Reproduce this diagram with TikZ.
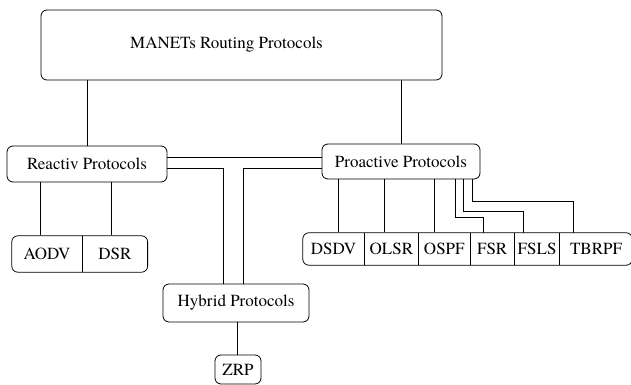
\documentclass[tikz,border=0pt]{standalone}
\usepackage{fontspec}
\setmainfont{texgyretermes}[Extension=.otf, UprightFont=*-regular, BoldFont=*-bold]
\usetikzlibrary{positioning,fit}

\tikzset{
  protobox/.style={draw, rounded corners=6pt, line width=0.8pt, inner sep=0pt,
    font=\fontsize{17}{20}\selectfont},
  protocell/.style={inner sep=0pt, font=\fontsize{17}{20}\selectfont},
  link/.style={line width=0.8pt}
}

\begin{document}
\begin{tikzpicture}[x=1pt,y=-1pt]
		%%Location
		\useasboundingbox (0,0) rectangle (631,385);
		%%Boxes
		\node[protobox, minimum width=401pt, minimum height=70pt,
		  label={[xshift=-15pt, font=\fontsize{17}{20}\selectfont]center:MANETs Routing Protocols}] (manet) at (241.5,45) {};
		\node[protobox, minimum width=160pt, minimum height=36pt] (reactiv) at (87,164) {Reactiv Protocols};
		\node[protobox, minimum width=158pt, minimum height=35pt] (proactive) at (401,161.5) {Proactive Protocols};
		\node[protobox, minimum width=146pt, minimum height=38pt] (hybrid) at (236,303) {Hybrid Protocols};
		\node[protobox, minimum width=46pt, minimum height=29pt] (zrp) at (238,369.5) {ZRP};
		
		%%Reactive protocols
		\node[protocell, minimum width=70pt, minimum height=36pt] (aodv) at (47,254) {AODV};
		\node[protocell, minimum width=65pt, minimum height=36pt, right=0pt of aodv] (dsr) {DSR};
		\node[protobox, fit=(aodv)(dsr)] (reactlist) {};
		\draw[link] (aodv.north east) -- (aodv.south east);
		
		%%Proactive protocols
		\node[protocell, minimum width=61pt, minimum height=32pt] (dsdv) at (333.5,249) {DSDV};
		\node[protocell, minimum width=54pt, minimum height=32pt, right=0pt of dsdv] (olsr) {OLSR};
		\node[protocell, minimum width=51pt, minimum height=32pt, right=0pt of olsr] (ospf) {OSPF};
		\node[protocell, minimum width=44pt, minimum height=32pt, right=0pt of ospf] (fsr) {FSR};
		\node[protocell, minimum width=45pt, minimum height=32pt, right=0pt of fsr] (fsls) {FSLS};
		\node[protocell, minimum width=72pt, minimum height=32pt, right=0pt of fsls] (tbrpf) {TBRPF};
		\node[protobox, fit=(dsdv)(tbrpf)] (proactlist) {};
		\foreach \c in {dsdv,olsr,ospf,fsr,fsls}
		  \draw[link] (\c.north east) -- (\c.south east);
		
		%%Links
		\draw[link] (reactiv.north) -- (reactiv.north |- manet.south);
		\draw[link] (proactive.north) -- (proactive.north |- manet.south);
		
		\draw[link] (reactiv.east |- 0,157) -- (proactive.west |- 0,157);
		\draw[link] (reactiv.east |- 0,168) -| (223,0 |- hybrid.north);
		\draw[link] (proactive.west |- 0,168) -| (243,0 |- hybrid.north);
		\draw[link] (237,0 |- hybrid.south) -- (237,0 |- zrp.north);
		
		\draw[link] (40,0 |- reactiv.south) -- (40,0 |- reactlist.north);
		\draw[link] (111,0 |- reactiv.south) -- (111,0 |- reactlist.north);
		
		\draw[link] (338,0 |- proactive.south) -- (338,0 |- proactlist.north);
		\draw[link] (384,0 |- proactive.south) -- (384,0 |- proactlist.north);
		\draw[link] (434,0 |- proactive.south) -- (434,0 |- proactlist.north);
		\draw[link] (455,0 |- proactive.south) -- (455,217) -| (fsr.north -| 483,0);
		\draw[link] (463,0 |- proactive.south) -- (463,211) -| (fsls.north -| 523,0);
		\draw[link] (472,0 |- proactive.south) -- (472,201) -| (tbrpf.north -| 573,0);
\end{tikzpicture}
\end{document}
